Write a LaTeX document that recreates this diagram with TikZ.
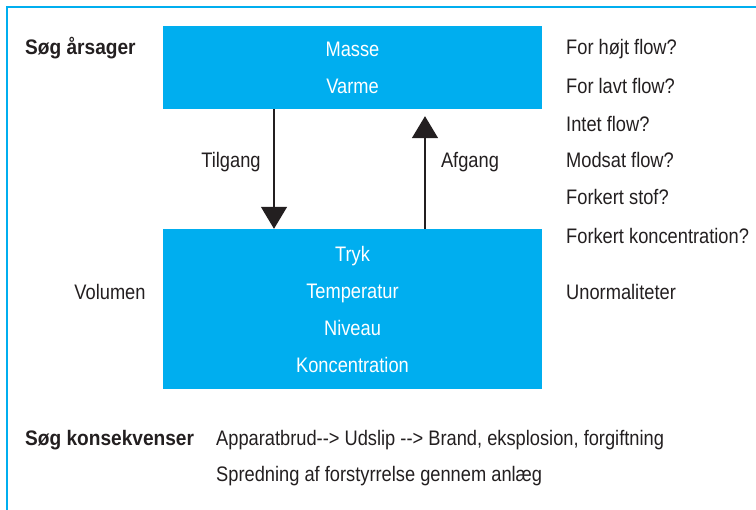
\documentclass[tikz,border=0pt]{standalone}
\usepackage{fontspec}
\setmainfont[FakeStretch=0.87,BoldFeatures={FakeStretch=0.91}]{Liberation Sans}
\usepackage{xcolor}
\usetikzlibrary{arrows.meta}

\definecolor{hazcyan}{HTML}{00AEEF}
\definecolor{hazink}{HTML}{231F20}

\tikzset{
  txt/.style={text=hazink, font=\fontsize{21}{37}\selectfont, inner sep=0pt},
  head/.style={txt, font=\fontsize{21}{37}\selectfont\bfseries, anchor=west},
  cause/.style={txt, anchor=west},
  tank/.style={fill=hazcyan, text=white, align=center, minimum width=379pt,
    font=\fontsize{21}{37}\selectfont, inner sep=0pt},
  flow/.style={line width=1.4pt, draw=hazink,
    -{Triangle[width=26pt,length=22pt]}, color=hazink},
}

\begin{document}
\begin{tikzpicture}[x=1pt,y=-1pt]
    \useasboundingbox (0,0) rectangle (756,510);
    \draw[hazcyan, line width=2pt] (6.5,510) -- (6.5,7) -- (756,7);

    % the two boxes
    \node[tank, minimum height=83pt] (inlet) at (352.5,67.5) {Masse\\Varme};
    \node[tank, minimum height=160pt] (vessel) at (352.5,309) {Tryk\\Temperatur\\Niveau\\Koncentration};

    \node[head] (causes) at (25,48) {Søg årsager};
    \node[txt] (volume) at (110,292) {Volumen};

    % flows in and out
    \draw[flow] ([xshift=-78.5pt]inlet.south) -- ([xshift=-78.5pt]vessel.north);
    \draw[flow] ([xshift=72.5pt]vessel.north) -- ([xshift=72.5pt,yshift=-7pt]inlet.south);
    \node[txt] (tilgang) at (231,162) {Tilgang};
    \node[txt] (afgang) at (470,162) {Afgang};

    % guide words
    \node[cause] (c1) at (566,49) {For højt flow?};
    \node[cause] (c2) at (566,86) {For lavt flow?};
    \node[cause] (c3) at (566,124) {Intet flow?};
    \node[cause] (c4) at (566,160) {Modsat flow?};
    \node[cause] (c5) at (566,197) {Forkert stof?};
    \node[cause] (c6) at (566,236) {Forkert koncentration?};
    \node[cause] (c7) at (566,292) {Unormaliteter};

    % consequences
    \node[head] (effects) at (25,440) {Søg konsekvenser};
    \node[cause] (e1) at (216,440) {Apparatbrud{-}{-}> Udslip {-}{-}> Brand, eksplosion, forgiftning};
    \node[cause] (e2) at (216,476) {Spredning af forstyrrelse gennem anlæg};
\end{tikzpicture}
\end{document}
